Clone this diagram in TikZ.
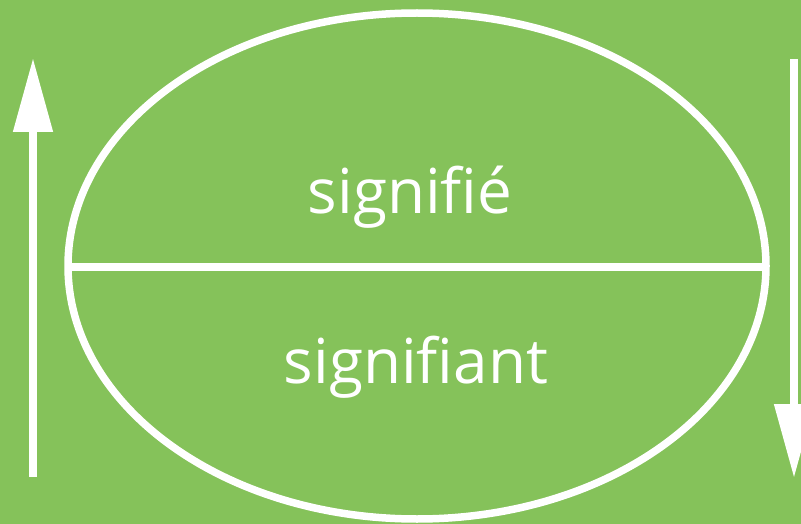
\documentclass[tikz,border=0pt]{standalone}
\usepackage{fontspec}
\setmainfont{Open Sans}
\usetikzlibrary{arrows.meta}
\definecolor{bggreen}{RGB}{133,194,90}
\tikzset{
  whiteline/.style={draw=white, line width=7.5pt},
  bigarrow/.style={draw=white, line width=8pt, -{Triangle[length=74pt,width=38pt]}},
  label/.style={text=white, font=\fontsize{62}{62}\selectfont, inner sep=0pt, anchor=base}
}
\begin{document}
\begin{tikzpicture}[x=1pt,y=-1pt]
  \useasboundingbox (0,0) rectangle (801,524);
  \fill[bggreen] (0,0) rectangle (801,524);
  \clip (0,0) rectangle (801,524);
  \draw[whiteline] (417,266) ellipse [x radius=349, y radius=253];
  \coordinate (eL) at (68,267);
  \coordinate (eR) at (766,267);
  \draw[whiteline] (eL) -- (eR);
  \node[label] (sigfie) at (410,213) {signifié};
  \node[label] (sigfiant) at (416,383) {signifiant};
  \coordinate (la) at (33,477);
  \coordinate (lb) at (33,58);
  \draw[bigarrow] (la) -- (lb);
  \coordinate (ra) at (794,59);
  \coordinate (rb) at (794,478);
  \draw[bigarrow] (ra) -- (rb);
\end{tikzpicture}
\end{document}
